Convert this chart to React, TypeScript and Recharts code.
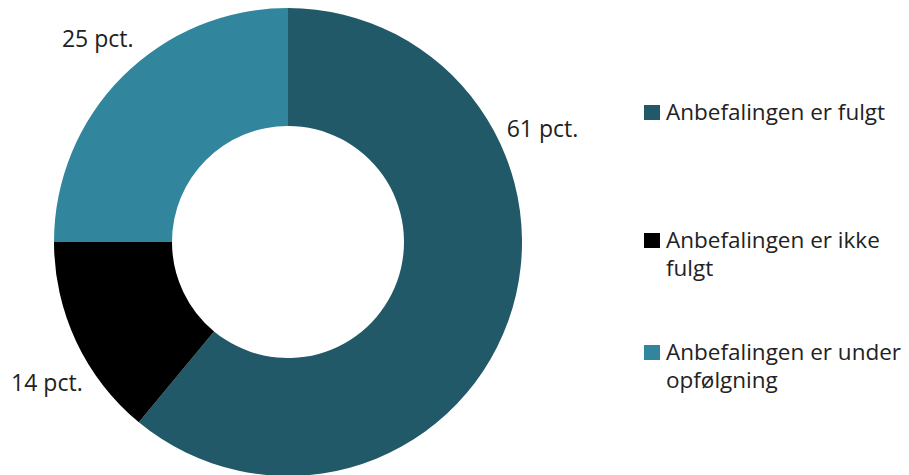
import { PieChart, Pie, Cell, Legend } from "recharts";

const categories = [
  "Anbefalingen er fulgt",
  "Anbefalingen er ikke fulgt",
  "Anbefalingen er under opfølgning",
];
const shares = [61, 14, 25];
const colors = ["#215968", "#000000", "#31859C"];

const data = categories.map((name, i) => ({ name, value: shares[i] }));

const FONT = "'Open Sans', 'Noto Sans', sans-serif";
const RADIAN = Math.PI / 180;

// Excel nudges the labels off the slice middles; shift in degrees per slice
const labelShift = [44, 5, -2];

const renderLabel = (props: any) => {
  const { cx, cy, midAngle, outerRadius, index, value } = props;
  const angle = midAngle + labelShift[index];
  const r = outerRadius + 45;
  const x = cx + r * Math.cos(angle * RADIAN);
  const y = cy - r * Math.sin(angle * RADIAN);
  return (
    <text
      x={x}
      y={y}
      textAnchor="middle"
      dominantBaseline="central"
      fill="#222"
      fontSize={23}
      fontFamily={FONT}
    >
      {`${value} pct.`}
    </text>
  );
};

const legendTops = [98, 226, 338];

const renderLegend = () => (
  <div style={{ position: "relative", fontFamily: FONT, fontSize: 22.5, color: "#222" }}>
    {categories.map((name, i) => (
      <div
        key={name}
        style={{
          position: "absolute",
          top: legendTops[i],
          left: 0,
          width: 265,
          display: "flex",
          alignItems: "flex-start",
          lineHeight: "28px",
        }}
      >
        <span
          style={{
            display: "inline-block",
            width: 16,
            height: 15,
            background: colors[i],
            marginTop: 7,
            marginRight: 6,
            flexShrink: 0,
          }}
        />
        <span>{name}</span>
      </div>
    ))}
  </div>
);

export default function App() {
  return (
    <div style={{ position: "absolute", left: 0, top: 0, background: "#fff" }}>
      <PieChart width={909} height={475} margin={{ top: 0, right: 0, bottom: 0, left: 0 }}>
        <Pie
          data={data}
          dataKey="value"
          nameKey="name"
          cx={288}
          cy={242}
          outerRadius={234}
          innerRadius={116}
          startAngle={90}
          endAngle={-270}
          stroke="none"
          label={renderLabel}
          labelLine={false}
          isAnimationActive={false}
        >
          {data.map((d, i) => (
            <Cell key={d.name} fill={colors[i]} />
          ))}
        </Pie>
        <Legend
          content={renderLegend}
          wrapperStyle={{ position: "absolute", left: 644, top: 0, width: 265, height: 475 }}
        />
      </PieChart>
    </div>
  );
}
